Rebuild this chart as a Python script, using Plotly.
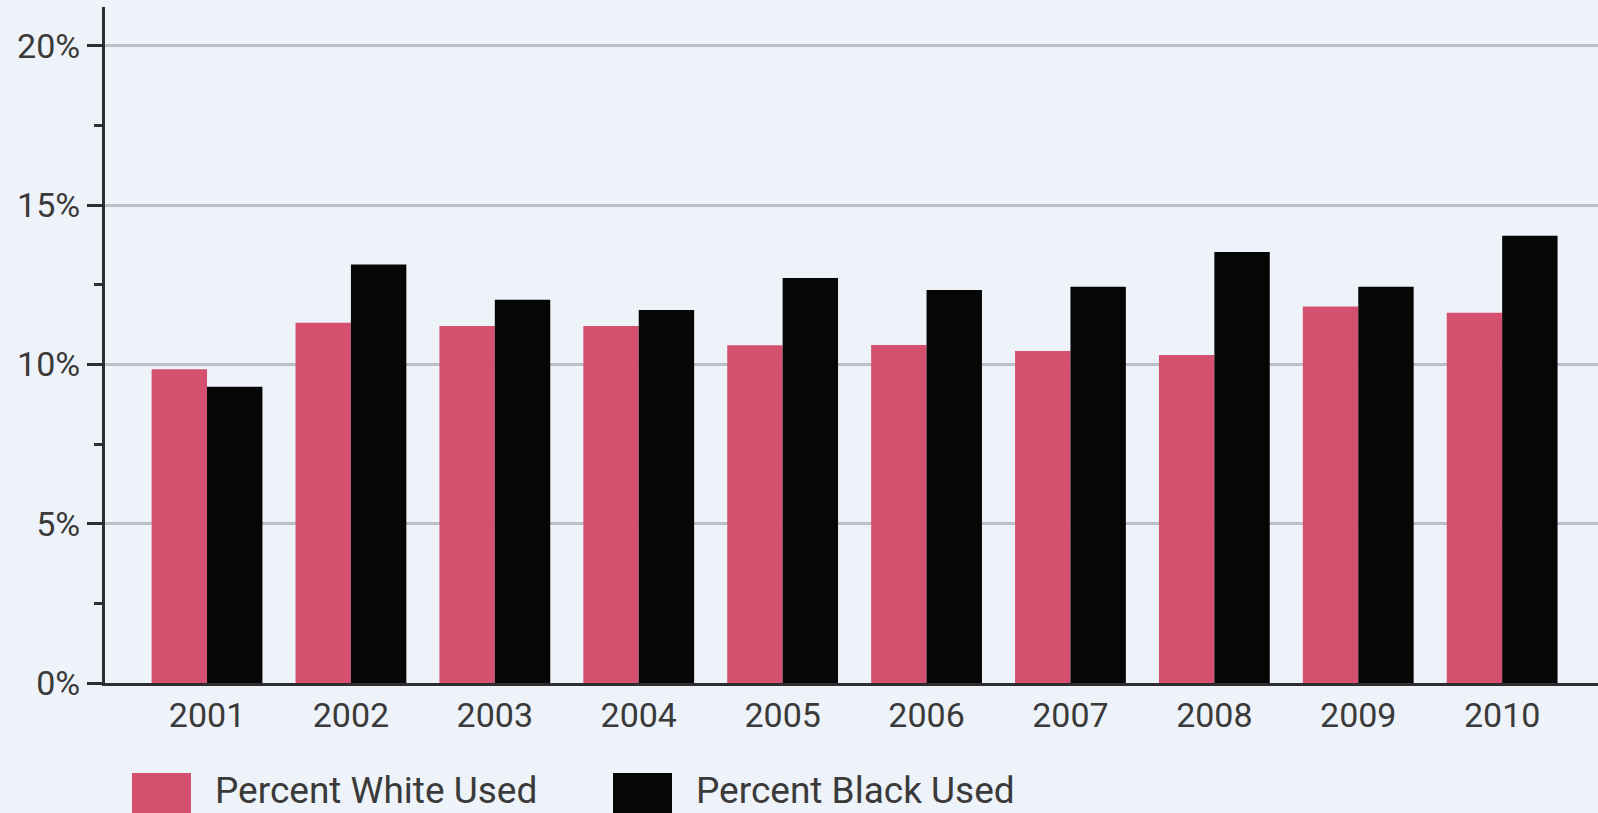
import plotly.graph_objects as go

years = ["2001", "2002", "2003", "2004", "2005", "2006", "2007", "2008", "2009", "2010"]
white_used = [9.85, 11.31, 11.21, 11.21, 10.6, 10.61, 10.42, 10.3, 11.82, 11.62]
black_used = [9.3, 13.14, 12.03, 11.71, 12.71, 12.34, 12.44, 13.53, 12.44, 14.04]
y_tick_vals = [0, 5, 10, 15, 20]
y_tick_text = ["0%", "5%", "10%", "15%", "20%"]
series_names = ["Percent White Used", "Percent Black Used"]

PINK = "#D4506E"
BLACK = "#060606"
BG = "#EEF2F9"
AXIS = "#2E2E2E"
TEXT = "#3A3A3A"
GRID = "#BBBFC7"
FONT = "Roboto, Liberation Sans, Arial, sans-serif"

W, H = 1598, 813
ML, MR, MT, MB = 105, 0, 7, 130
PW, PH = W - ML - MR, H - MT - MB


def px(x):
    return (x - ML) / PW


def py(y):
    return (H - MB - y) / PH


fig = go.Figure()
fig.add_trace(go.Bar(x=years, y=white_used, name=series_names[0],
                     marker=dict(color=PINK, line=dict(width=0)), showlegend=False))
fig.add_trace(go.Bar(x=years, y=black_used, name=series_names[1],
                     marker=dict(color=BLACK, line=dict(width=0)), showlegend=False))

fig.update_layout(
    width=W, height=H,
    margin=dict(l=ML, r=MR, t=MT, b=MB, pad=0),
    paper_bgcolor=BG, plot_bgcolor=BG,
    barmode="group", bargap=0.23, bargroupgap=0,
    font=dict(family=FONT, color=TEXT, size=34),
)

fig.update_xaxes(
    type="category", range=[-0.709, 9.666],
    showline=True, linecolor=AXIS, linewidth=3,
    ticks="", showgrid=False, zeroline=False,
    tickfont=dict(size=34, color=TEXT), ticklabelstandoff=0,
)
fig.update_yaxes(
    range=[0, 21.22],
    tickvals=y_tick_vals, ticktext=y_tick_text,
    showline=True, linecolor=AXIS, linewidth=3,
    ticks="outside", ticklen=15, tickwidth=2.5, tickcolor=AXIS,
    showgrid=True, gridcolor=GRID, gridwidth=2.5,
    zeroline=False,
    minor=dict(dtick=2.5, tick0=0, ticks="outside", ticklen=8, tickwidth=2.5,
               tickcolor=AXIS, showgrid=False),
    tickfont=dict(size=34, color=TEXT), ticklabelstandoff=0,
)

# legend drawn as shapes + text
legend_items = [
    (132, 191, 213, series_names[0], PINK),
    (613, 672, 694, series_names[1], BLACK),
]
for x0, x1, tx, label, col in legend_items:
    fig.add_shape(type="rect", xref="paper", yref="paper",
                  x0=px(x0), x1=px(x1), y0=py(773), y1=py(832),
                  fillcolor=col, line=dict(width=0), layer="above")
    fig.add_annotation(xref="paper", yref="paper", x=px(tx), y=py(790),
                       xanchor="left", yanchor="middle", showarrow=False,
                       text=label, font=dict(size=37, color=TEXT, family=FONT))

fig.write_html(
    "out.html",
    config={"displayModeBar": False},
    post_script="document.body.style.margin='0';document.body.style.overflow='hidden';",
)
